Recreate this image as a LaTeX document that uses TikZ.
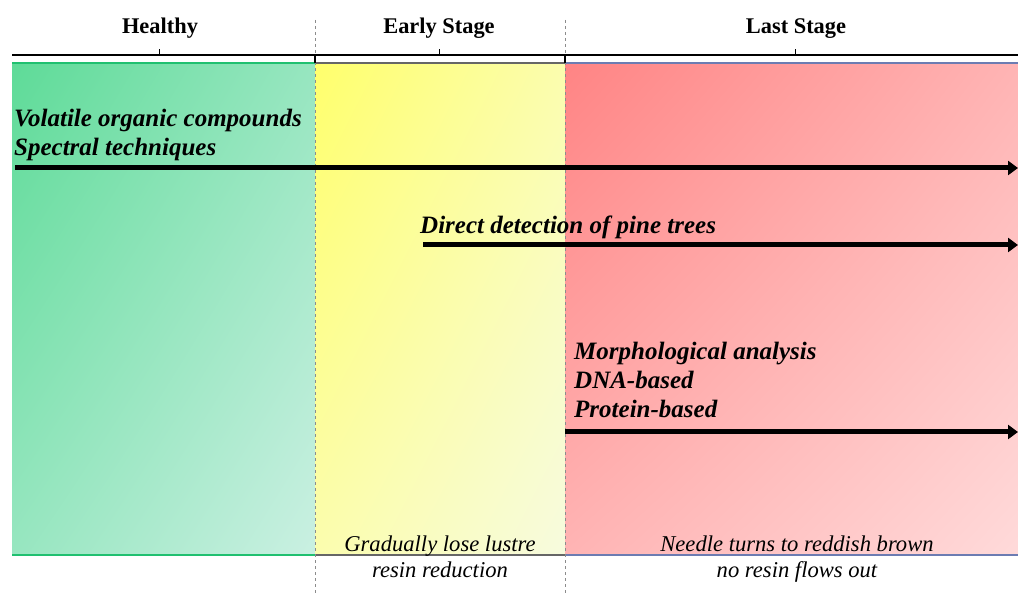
\documentclass[tikz,border=0pt]{standalone}
\usepackage{fontspec}
\setmainfont{Liberation Serif}
\usepackage{tikz}
\usetikzlibrary{arrows.meta, shadings}

\definecolor{GreenDeep}{HTML}{5EDB98}
\definecolor{GreenMid}{HTML}{97E6C0}
\definecolor{GreenPale}{HTML}{CAF0E2}
\definecolor{GreenEdge}{HTML}{20C070}
\definecolor{YellowDeep}{HTML}{FFFF6C}
\definecolor{YellowMid}{HTML}{FBFDAE}
\definecolor{YellowPale}{HTML}{F7FBDE}
\definecolor{RedDeep}{HTML}{FF8484}
\definecolor{RedMid}{HTML}{FFB4B4}
\definecolor{RedPale}{HTML}{FFDADA}
\definecolor{RedEdge}{HTML}{6C7CB2}

\begin{document}
\begin{tikzpicture}[x=1pt, y=-1pt,
    stage/.style={anchor=base, inner sep=0pt, font=\fontsize{22.4}{26}\selectfont\bfseries},
    method/.style={anchor=base west, inner sep=0pt, font=\fontsize{25}{29}\selectfont\bfseries\itshape},
    symptom/.style={anchor=base, inner sep=0pt, font=\fontsize{22.6}{26}\selectfont\itshape},
    track/.style={-{Triangle[length=10pt, width=14pt]}, line width=5pt, black}]
        \useasboundingbox (0,0) rectangle (1018,593);

        \shade[upper left=GreenDeep, upper right=GreenMid, lower left=GreenMid, lower right=GreenPale] (12,63) rectangle (315,555);
        \shade[upper left=YellowDeep, upper right=YellowMid, lower left=YellowMid, lower right=YellowPale] (315,63) rectangle (565,555);
        \shade[upper left=RedDeep, upper right=RedMid, lower left=RedMid, lower right=RedPale] (565,63) rectangle (1018,555);

        \draw[GreenEdge, line width=1.8pt] (12,63) -- (315,63);
        \draw[GreenEdge, line width=1.8pt] (12,555) -- (315,555);
        \draw[black!60, line width=1.2pt] (315,63) -- (565,63);
        \draw[black!60, line width=1.2pt] (315,555) -- (565,555);
        \draw[RedEdge, line width=1.4pt] (565,63) -- (1018,63);
        \draw[RedEdge, line width=1.4pt] (565,555) -- (1018,555);

        \draw[black!45, dashed, line width=0.9pt] (315,20) -- (315,593);
        \draw[black!45, dashed, line width=0.9pt] (565,20) -- (565,593);

        \draw[line width=1.2pt] (12,55) -- (1018,55);
        \foreach \tx in {159, 439, 795}
            \draw[line width=1pt] (\tx,55) -- (\tx,49);
        \foreach \tx in {315, 565}
            \draw[line width=1.2pt] (\tx,55) -- (\tx,63);

        \node[stage] (healthy) at (160,34) {Healthy};
        \node[stage] (early) at (439,34) {Early Stage};
        \node[stage] (last) at (796,34) {Last Stage};

        \node[method] (voc) at (14,127) {Volatile organic compounds};
        \node[method] (spectral) at (14,156) {Spectral techniques};
        \coordinate (spectral start) at (15,168);
        \coordinate (spectral end) at (1018,168);
        \draw[track] (spectral start) -- (spectral end);

        \node[method] (direct) at (420,234) {Direct detection of pine trees};
        \coordinate (direct start) at (423,245);
        \coordinate (direct end) at (1018,245);
        \draw[track] (direct start) -- (direct end);

        \node[method] (morpho) at (574,360) {Morphological analysis};
        \node[method] (dna) at (574,389) {DNA-based};
        \node[method] (protein) at (574,418) {Protein-based};
        \coordinate (protein start) at (565,432);
        \coordinate (protein end) at (1018,432);
        \draw[track] (protein start) -- (protein end);

        \node[symptom] (lustre) at (440,551) {Gradually lose lustre};
        \node[symptom] (resin) at (440,577) {resin reduction};
        \node[symptom] (needle) at (797,551) {Needle turns to reddish brown};
        \node[symptom] (noflow) at (797,577) {no resin flows out};

    \end{tikzpicture}
\end{document}
